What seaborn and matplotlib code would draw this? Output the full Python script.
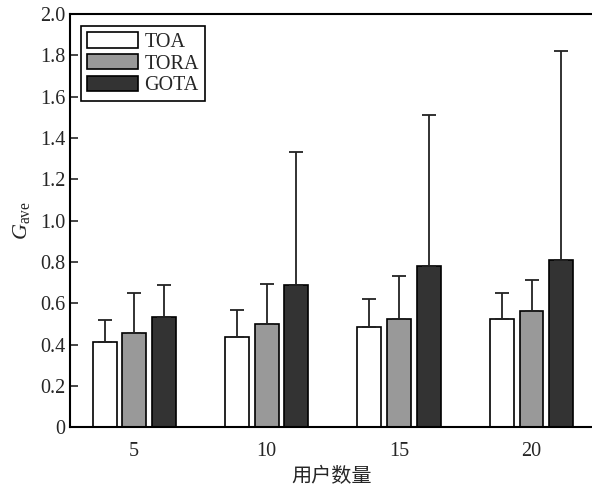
import matplotlib
matplotlib.use("Agg")
import matplotlib.pyplot as plt
import seaborn as sns
import pandas as pd
import numpy as np

users = ["5", "10", "15", "20"]
algorithms = ["TOA", "TORA", "GOTA"]
toa_mean = [0.41, 0.435, 0.485, 0.525]
toa_upper = [0.52, 0.565, 0.62, 0.65]
tora_mean = [0.455, 0.50, 0.525, 0.56]
tora_upper = [0.65, 0.695, 0.73, 0.71]
gota_mean = [0.535, 0.69, 0.78, 0.81]
gota_upper = [0.69, 1.33, 1.51, 1.82]
yticks = [0.0, 0.2, 0.4, 0.6, 0.8, 1.0, 1.2, 1.4, 1.6, 1.8, 2.0]
colors = ["#ffffff", "#999999", "#333333"]

means = {"TOA": toa_mean, "TORA": tora_mean, "GOTA": gota_mean}
uppers = {"TOA": toa_upper, "TORA": tora_upper, "GOTA": gota_upper}

rows = []
for a in algorithms:
    for u, m, up in zip(users, means[a], uppers[a]):
        rows.append({"users": u, "alg": a, "value": m, "upper": up})
df = pd.DataFrame(rows)

sns.set_style("ticks")
plt.rcParams["font.family"] = ["Liberation Serif", "Noto Sans CJK SC", "DejaVu Sans"]
plt.rcParams["mathtext.fontset"] = "custom"
plt.rcParams["mathtext.rm"] = "Liberation Serif"
plt.rcParams["mathtext.it"] = "Liberation Serif:italic"

fig = plt.figure(figsize=(5.92, 4.95), dpi=100)
ax = fig.add_axes([0.118, 0.137, 0.885, 0.835])

sns.barplot(data=df, x="users", y="value", hue="alg", order=users,
            hue_order=algorithms, palette=colors, width=0.67, gap=0.19,
            edgecolor="black", linewidth=1.2, errorbar=None, ax=ax)

# upper-only error bars
for i, a in enumerate(algorithms):
    cont = ax.containers[i]
    xs = [p.get_x() + p.get_width() / 2 for p in cont.patches]
    m = np.array(means[a])
    up = np.array(uppers[a])
    ax.errorbar(xs, m, yerr=[np.zeros_like(m), up - m], fmt="none",
                ecolor="#222222", elinewidth=1.3, capsize=5, capthick=1.3, zorder=1)

ax.set_ylim(0, 2.0)
ax.set_xlim(-0.485, 3.47)
ax.set_yticks(yticks)
ax.set_yticklabels([f"{t:.1f}" if t > 0 else "0" for t in yticks], fontsize=14.5)
ax.tick_params(axis="y", direction="in", length=6, width=1.2, pad=3)
ax.tick_params(axis="x", length=0, pad=11, labelsize=14.5)
for s in ["left", "top", "bottom"]:
    ax.spines[s].set_linewidth(1.5)
    ax.spines[s].set_color("black")
ax.spines["right"].set_visible(False)

ax.set_xlabel("用户数量", fontsize=14.5, family=["Noto Sans CJK SC", "DejaVu Sans"], labelpad=3)
ax.set_ylabel(r"$G_{\mathrm{ave}}$", fontsize=16, labelpad=6)

leg = ax.legend(loc="upper left", bbox_to_anchor=(0.01, 0.985), fontsize=14.5,
                frameon=True, fancybox=False, edgecolor="black", framealpha=1,
                handlelength=2.5, handleheight=0.8, handletextpad=0.35,
                labelspacing=0.1, borderpad=0.3, borderaxespad=0.3)
leg.get_frame().set_linewidth(1.2)

fig.savefig("out.png", dpi=100)
